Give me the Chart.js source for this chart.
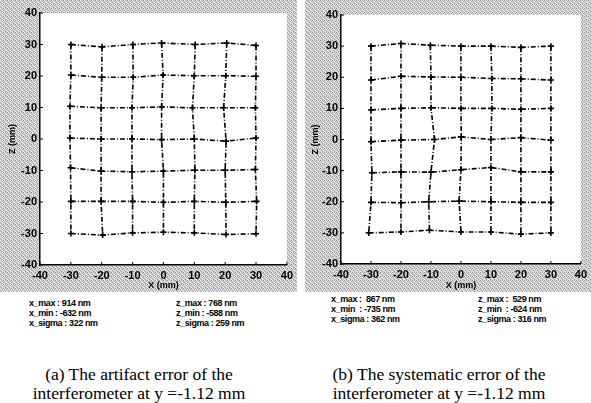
<!DOCTYPE html>
<html>
<head>
<meta charset="utf-8">
<script src="https://cdn.jsdelivr.net/npm/chart.js@4/dist/chart.umd.min.js"></script>
<style>
  html, body { margin: 0; padding: 0; background: #fff; }
  body { width: 591px; height: 403px; position: relative; overflow: hidden; }
  .box { position: absolute; }
  .stats { position: absolute; font: bold 9px "Liberation Sans", Arial, sans-serif; letter-spacing: -0.4px; line-height: 10px; color: #000; white-space: pre; }
  .cap { position: absolute; font: 17.5px "Liberation Serif", "Times New Roman", serif; line-height: 19px; text-align: center; color: #000; }
</style>
</head>
<body>
<div class="box" style="left:0;top:0;width:297px;height:292px"><canvas id="chartA"></canvas></div>
<div class="box" style="left:305px;top:0;width:286px;height:292px"><canvas id="chartB"></canvas></div>

<div class="stats" style="left:29px;top:298px">x_max : 914 nm
x_min : -632 nm
x_sigma : 322 nm</div>
<div class="stats" style="left:176px;top:298px">z_max : 768 nm
z_min : -588 nm
z_sigma : 259 nm</div>
<div class="stats" style="left:331px;top:294px">x_max :  867 nm
x_min  : -735 nm
x_sigma : 362 nm</div>
<div class="stats" style="left:478px;top:294px">z_max :  529 nm
z_min  : -624 nm
z_sigma : 316 nm</div>

<div class="cap" style="left:9px;top:365px;width:260px">(a) The artifact error of the<br>interferometer at y =-1.12 mm</div>
<div class="cap" style="left:309px;top:365px;width:260px">(b) The systematic error of the<br>interferometer at y =-1.12 mm</div>

<script>
// nominal grid positions (mm)
var gridX = [-30, -20, -10, 0, 10, 20, 30];
var gridZ = [30, 20, 10, 0, -10, -20, -30];
var axisTicks = [-40, -30, -20, -10, 0, 10, 20, 30, 40];

// (a) artifact error: displacement of each node (mm, magnified), rows top to bottom
var errXA = [
  [0, 0.1, 0.1, -0.6, 0.3, 0.5, 0],
  [0, 0, 0.2, -0.1, 0, 0.2, 0],
  [-0.3, -0.2, -0.2, -0.6, -0.6, -0.5, -0.2],
  [-0.3, -0.2, -0.2, -0.6, 0, 0.3, 0],
  [-0.1, -0.2, -0.2, 0, 0.2, 0, -0.2],
  [0, -0.2, 0, 0, 0, 0.2, 0.2],
  [0, 0.3, 0, 0, 0, 0.3, 0]
];
var errZA = [
  [0, -0.75, 0, 0.5, 0, 0.5, -0.3],
  [0.3, -0.4, -0.4, 0.3, 0.1, 0.1, -0.1],
  [0.4, -0.1, -0.1, 0.2, -0.1, -0.1, -0.1],
  [0.3, 0, 0, -0.2, 0, -0.7, 0.3],
  [0.85, -0.2, -0.4, -0.2, 0.1, 0.1, 0.3],
  [0.2, 0.2, 0.2, -0.1, 0.2, -0.1, 0.2],
  [0, -0.5, 0.2, 0.4, 0.2, -0.3, -0.1]
];

// (b) systematic error
var errXB = [
  [0, 0, -0.2, 0, 0, 0, 0],
  [0, 0, 0, 0, 0.3, 0, 0],
  [0, 0, 0, 0, 0.3, 0, 0],
  [0, 0, 1.2, 0.1, 0, 0, 0],
  [0.3, 0, 0, 0, 0, 0, 0],
  [0, 0, -0.75, -0.6, 0, 0, 0],
  [-0.75, 0, -0.5, 0, 0, 0, 0]
];
var errZB = [
  [0, 0.85, 0.3, 0, 0, -0.4, 0],
  [-0.9, 0.3, 0.1, 0, -0.4, -0.5, -0.9],
  [-0.5, 0, 0.2, 0, 0, -0.3, 0],
  [-0.7, -0.2, 0, 0.85, 0, 0.6, -0.2],
  [-0.7, -0.4, -0.5, 0.3, 1.0, -0.4, -0.4],
  [-0.2, -0.3, 0, 0.2, 0, -0.2, -0.2],
  [0, 0.3, 0.85, 0.3, 0.3, -0.4, 0]
];

function node(errX, errZ, r, c) {
  return { x: gridX[c] + errX[r][c], y: gridZ[r] + errZ[r][c] };
}

function buildDatasets(errX, errZ) {
  var sets = [];
  var line = {
    showLine: true, borderColor: '#000', borderWidth: 1.6,
    borderDash: [5, 2, 1, 2], backgroundColor: '#000'
  };
  for (var r = 0; r < gridZ.length; r++) {
    var pts = [];
    for (var c = 0; c < gridX.length; c++) pts.push(node(errX, errZ, r, c));
    sets.push(Object.assign({ data: pts, pointStyle: 'cross', pointRadius: 3, pointBorderWidth: 1.6, pointBorderColor: '#000' }, line));
  }
  for (var c2 = 0; c2 < gridX.length; c2++) {
    var colPts = [];
    for (var r2 = 0; r2 < gridZ.length; r2++) colPts.push(node(errX, errZ, r2, c2));
    sets.push(Object.assign({ data: colPts, pointRadius: 0 }, line));
  }
  return sets;
}

// stippled grey background like the scanned figure
function makePattern() {
  var vals = [232, 175, 222, 140, 205, 238, 160, 215, 168, 212, 242, 190, 226, 150, 208, 234];
  var c = document.createElement('canvas');
  c.width = 4; c.height = 4;
  var g = c.getContext('2d');
  var img = g.createImageData(4, 4);
  for (var i = 0; i < 16; i++) {
    img.data[i * 4] = vals[i]; img.data[i * 4 + 1] = vals[i]; img.data[i * 4 + 2] = vals[i]; img.data[i * 4 + 3] = 255;
  }
  g.putImageData(img, 0, 0);
  return c;
}
var patternCanvas = makePattern();

var framePlugin = {
  id: 'frame',
  beforeDraw: function (chart) {
    var ctx = chart.ctx, a = chart.chartArea;
    ctx.save();
    ctx.fillStyle = ctx.createPattern(patternCanvas, 'repeat');
    ctx.fillRect(0, 0, chart.width, chart.height);
    ctx.fillStyle = '#fff';
    ctx.fillRect(a.left, a.top, a.right - a.left, a.bottom - a.top);
    ctx.restore();
  },
  afterDraw: function (chart) {
    var ctx = chart.ctx, a = chart.chartArea;
    var xs = chart.scales.x, ys = chart.scales.y;
    ctx.save();
    ctx.strokeStyle = '#000';
    ctx.lineWidth = 1;
    axisTicks.forEach(function (v) {
      var px = xs.getPixelForValue(v);
      ctx.beginPath(); ctx.moveTo(px, a.bottom); ctx.lineTo(px, a.bottom - 3); ctx.stroke();
      var py = ys.getPixelForValue(v);
      ctx.beginPath(); ctx.moveTo(a.left, py); ctx.lineTo(a.left + 3, py); ctx.stroke();
    });
    ctx.restore();
  }
};

function makeChart(id, errX, errZ, opts) {
  var tickFont = { family: '"Liberation Sans", Arial, sans-serif', size: 11, weight: 'bold' };
  var titleFont = { family: '"Liberation Sans", Arial, sans-serif', size: 9, weight: 'bold' };
  return new Chart(document.getElementById(id), {
    type: 'scatter',
    data: { datasets: buildDatasets(errX, errZ) },
    plugins: [framePlugin],
    options: {
      responsive: true,
      maintainAspectRatio: false,
      animation: false,
      layout: { padding: { top: opts.top, right: opts.right, left: 0, bottom: 0 } },
      plugins: { legend: { display: false }, tooltip: { enabled: false } },
      scales: {
        x: {
          type: 'linear', min: -40, max: 40,
          afterBuildTicks: function (s) { s.ticks = axisTicks.map(function (v) { return { value: v }; }); },
          afterFit: function (s) { s.height = opts.xh; },
          ticks: { color: '#000', font: tickFont, padding: 4, maxRotation: 0, autoSkip: false },
          grid: { drawOnChartArea: false, drawTicks: false },
          border: { color: '#000', width: 1.5 },
          title: { display: true, text: 'X (mm)', color: '#000', font: titleFont, padding: { top: 0, bottom: 1 } }
        },
        y: {
          type: 'linear', min: -40, max: 40,
          afterBuildTicks: function (s) { s.ticks = axisTicks.map(function (v) { return { value: v }; }); },
          afterFit: function (s) { s.width = opts.yw; },
          ticks: { color: '#000', font: tickFont, padding: 3, autoSkip: false },
          grid: { drawOnChartArea: false, drawTicks: false },
          border: { color: '#000', width: 1.5 },
          title: { display: true, text: 'Z (mm)', color: '#000', font: titleFont, padding: { top: opts.ytp, bottom: 0 } }
        }
      }
    }
  });
}

makeChart('chartA', errXA, errZA, { top: 13, right: 5, xh: 27, yw: 40, ytp: 7 });
makeChart('chartB', errXB, errZB, { top: 15, right: 0, xh: 28, yw: 36, ytp: 5 });
</script>
</body>
</html>
